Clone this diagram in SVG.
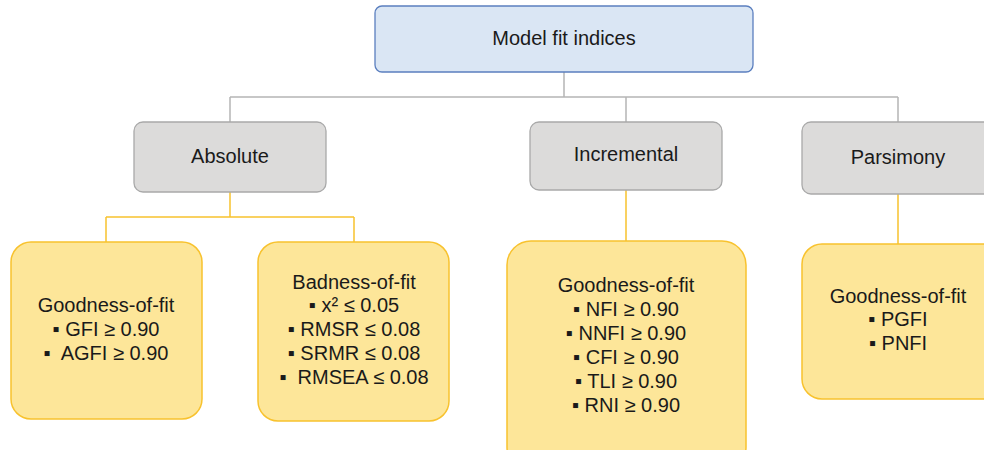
<svg xmlns="http://www.w3.org/2000/svg" width="984" height="450" viewBox="0 0 984 450">
<style>
text{font-family:"Liberation Sans",Arial,sans-serif;font-size:20px;fill:#1a1a1a;text-anchor:middle}
.top{fill:#dae6f4;stroke:#5b7fbf;stroke-width:1.3}
.cat{fill:#dcdbda;stroke:#a9a9a9;stroke-width:1.3}
.leaf{fill:#fde699;stroke:#f8c22e;stroke-width:1.5}
.gl{fill:none;stroke:#b5b5b5;stroke-width:1.5}
.yl{fill:none;stroke:#f8c22e;stroke-width:1.5}
</style>
<rect width="984" height="450" fill="#ffffff"/>
<g id="connectors">
<path class="gl" d="M564 72V97M230 97H898M230 97V122M626 97V122M898 97V122"/>
<path class="yl" d="M230 192V217M106 217H354M106 217V242M354 217V242M626 190V241M898 194V244"/>
</g>
<g id="model-fit-indices">
<rect class="top" x="375" y="6" width="378" height="66" rx="7"/>
<text x="564" y="45">Model fit indices</text>
</g>
<g id="absolute">
<rect class="cat" x="134" y="122" width="192" height="70" rx="9"/>
<text x="230" y="163">Absolute</text>
</g>
<g id="incremental">
<rect class="cat" x="530" y="122" width="192" height="68" rx="9"/>
<text x="626" y="161">Incremental</text>
</g>
<g id="parsimony">
<rect class="cat" x="802" y="122" width="200" height="72" rx="9"/>
<text x="898" y="164">Parsimony</text>
</g>
<g id="absolute-goodness">
<rect class="leaf" x="11" y="242" width="191" height="177" rx="20"/>
<text x="106" y="312">Goodness-of-fit</text>
<text x="106" y="336">▪ GFI ≥ 0.90</text>
<text x="106" y="360" xml:space="preserve">▪  AGFI ≥ 0.90</text>
</g>
<g id="absolute-badness">
<rect class="leaf" x="258" y="242" width="191" height="179" rx="20"/>
<text x="354" y="289">Badness-of-fit</text>
<text x="354" y="312">▪ x² ≤ 0.05</text>
<text x="354" y="336">▪ RMSR ≤ 0.08</text>
<text x="354" y="360">▪ SRMR ≤ 0.08</text>
<text x="354" y="384" xml:space="preserve">▪  RMSEA ≤ 0.08</text>
</g>
<g id="incremental-goodness">
<rect class="leaf" x="507" y="241" width="239" height="230" rx="24"/>
<text x="626" y="292">Goodness-of-fit</text>
<text x="626" y="316">▪ NFI ≥ 0.90</text>
<text x="626" y="340">▪ NNFI ≥ 0.90</text>
<text x="626" y="364">▪ CFI ≥ 0.90</text>
<text x="626" y="388">▪ TLI ≥ 0.90</text>
<text x="626" y="412">▪ RNI ≥ 0.90</text>
</g>
<g id="parsimony-goodness">
<rect class="leaf" x="802" y="244" width="200" height="155" rx="20"/>
<text x="898" y="303">Goodness-of-fit</text>
<text x="898" y="326">▪ PGFI</text>
<text x="898" y="350">▪ PNFI</text>
</g>
</svg>
